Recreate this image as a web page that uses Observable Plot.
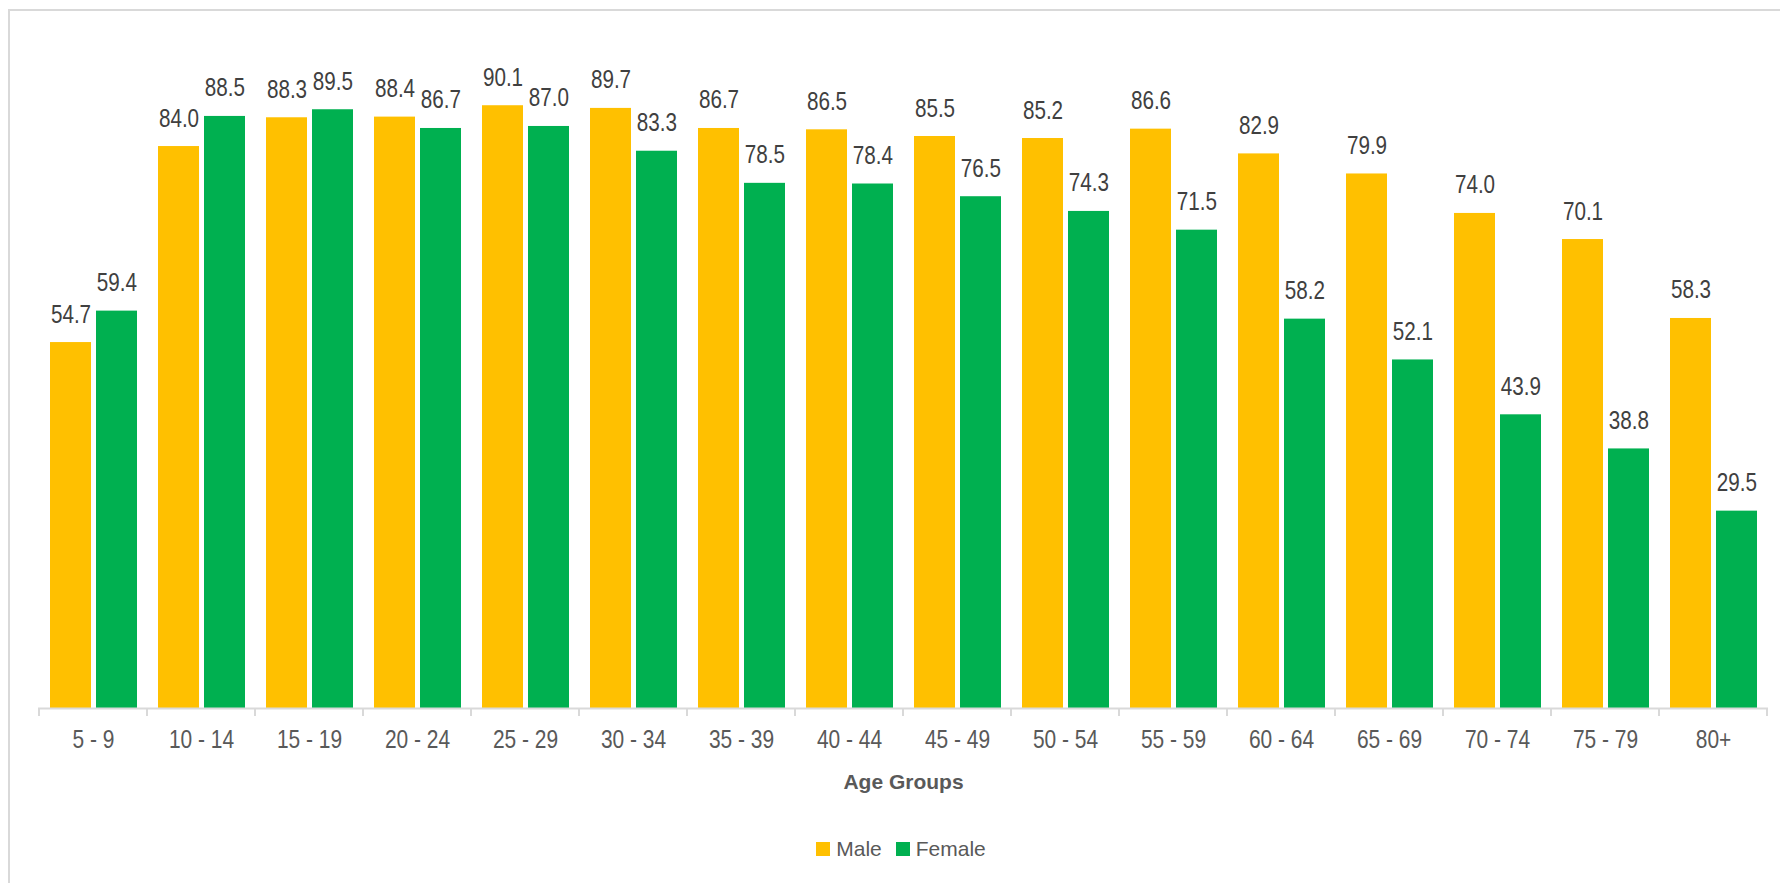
<!DOCTYPE html>
<html>
<head>
<meta charset="utf-8">
<script src="https://cdn.jsdelivr.net/npm/d3@7"></script>
<script src="https://cdn.jsdelivr.net/npm/@observablehq/plot@0.6"></script>
<style>
  html, body { margin: 0; padding: 0; background: #fff; }
  body { width: 1780px; height: 883px; overflow: hidden; position: relative; }
  #frame { position: absolute; left: 8px; top: 9px; right: -4px; bottom: -4px; border-left: 2px solid #d9d9d9; border-top: 2px solid #d9d9d9; pointer-events: none; }
  #legend { height: 63px; display: flex; justify-content: center; align-items: center; padding-left: 36px; padding-bottom: 6px; box-sizing: border-box; font-family: "Liberation Sans", Arial, sans-serif; font-size: 21px; color: #595959; }
  .item { display: flex; align-items: center; margin: 0 14px 0 0; }
  .sw { width: 14px; height: 14px; margin-right: 6px; }
</style>
</head>
<body>
<div id="frame"></div>
<div id="chart"></div>
<div id="legend"></div>
<script>
const ages = ["5 - 9","10 - 14","15 - 19","20 - 24","25 - 29","30 - 34","35 - 39","40 - 44","45 - 49","50 - 54","55 - 59","60 - 64","65 - 69","70 - 74","75 - 79","80+"];
const male = [54.7,84.0,88.3,88.4,90.1,89.7,86.7,86.5,85.5,85.2,86.6,82.9,79.9,74.0,70.1,58.3];
const female = [59.4,88.5,89.5,86.7,87.0,83.3,78.5,78.4,76.5,74.3,71.5,58.2,52.1,43.9,38.8,29.5];
const seriesNames = ["Male", "Female"];
const colors = ["#FFC000", "#00B050"];

const data = ages.map((a, i) => ({age: a, male: male[i], female: female[i]}));

const font = "'Liberation Sans', Arial, sans-serif";

function boundaryTicks(index, scales, values, dims) {
  const x = scales.x;
  let bw = x.bandwidth;
  bw = typeof bw === "function" ? bw() : bw;
  const y0 = dims.height - dims.marginBottom;
  const edges = ages.map(a => x(a)).concat([x(ages[ages.length - 1]) + bw]);
  const g = d3.create("svg:g").attr("stroke", "#d9d9d9").attr("stroke-width", 2);
  for (const e of edges) g.append("line").attr("x1", e).attr("x2", e).attr("y1", y0).attr("y2", y0 + 8);
  return g.node();
}

const chart = Plot.plot({
  width: 1780,
  height: 820,
  marginLeft: 38,
  marginRight: 12,
  marginTop: 39,
  marginBottom: 112,
  style: { fontFamily: font, background: "transparent" },
  x: { domain: ages, padding: 0, label: "Age Groups", labelArrow: "none" },
  y: { domain: [0, 100], axis: null },
  marks: [
    Plot.barY(data, { x: "age", y: "male", fill: colors[0], insetLeft: 11, insetRight: 56 }),
    Plot.barY(data, { x: "age", y: "female", fill: colors[1], insetLeft: 57, insetRight: 10 }),
    Plot.text(data, { x: "age", y: "male", text: d => d.male.toFixed(1), dx: -22.5, dy: -20, lineAnchor: "bottom", fill: "#404040", fontSize: 25.5 }),
    Plot.text(data, { x: "age", y: "female", text: d => d.female.toFixed(1), dx: 23.3, dy: -20, lineAnchor: "bottom", fill: "#404040", fontSize: 25.5 }),
    Plot.ruleY([0], { stroke: "#d9d9d9", strokeWidth: 2 }),
    boundaryTicks,
    Plot.axisX({ tickSize: 0, tickPadding: 21, fontSize: 26.5, color: "#595959", label: null }),
    Plot.axisX({ ticks: [], label: "Age Groups", labelAnchor: "center", labelOffset: 80, labelArrow: "none", fontSize: 21, fontWeight: "bold", color: "#595959" })
  ]
});
document.getElementById("chart").appendChild(chart);

// condense numeric labels to mimic the narrow face of the original
function condense(sel, k) {
  chart.querySelectorAll(sel).forEach(t => {
    const len = t.getComputedTextLength();
    if (len > 0) {
      t.setAttribute("textLength", (len * k).toFixed(2));
      t.setAttribute("lengthAdjust", "spacingAndGlyphs");
    }
  });
}
condense('g[aria-label="text"] text', 0.81);
condense('g[aria-label="x-axis tick label"] text', 0.79);

const legend = document.getElementById("legend");
seriesNames.forEach((n, i) => {
  const it = document.createElement("div");
  it.className = "item";
  it.innerHTML = `<div class="sw" style="background:${colors[i]}"></div><span>${n}</span>`;
  legend.appendChild(it);
});
</script>
</body>
</html>
